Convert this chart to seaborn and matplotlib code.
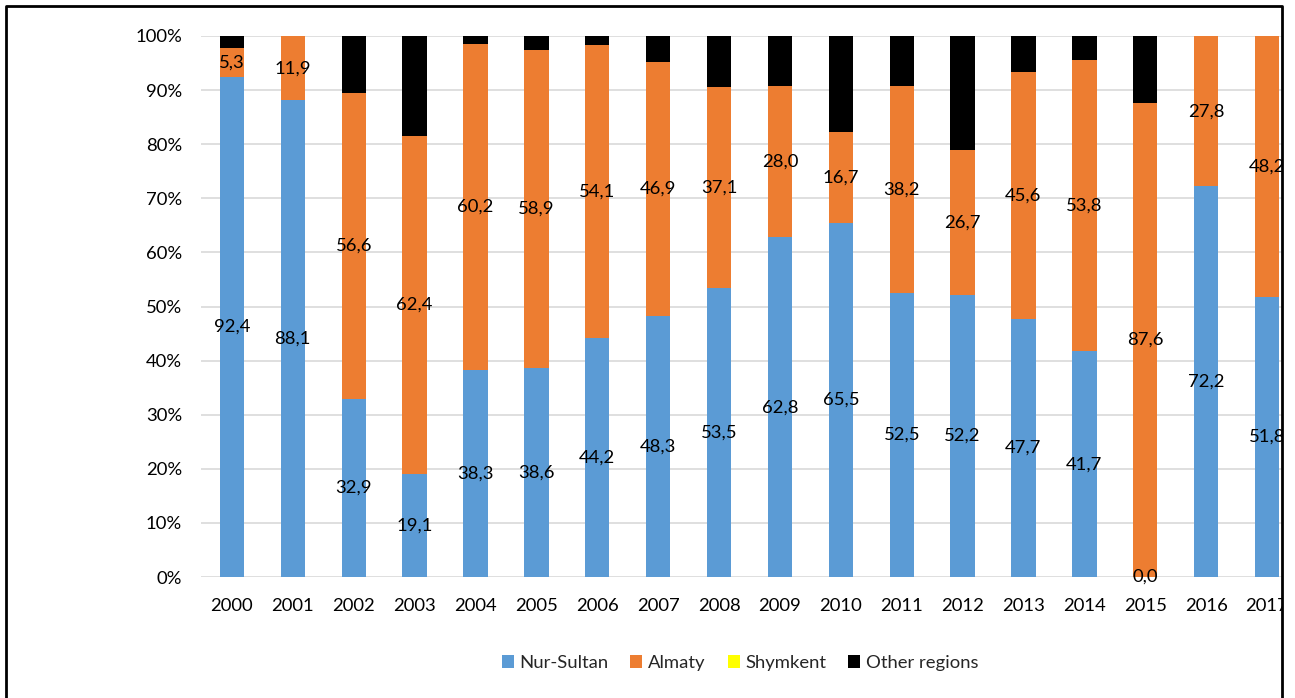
import pandas as pd
import numpy as np
import matplotlib
matplotlib.use("Agg")
import matplotlib.pyplot as plt
import seaborn as sns
from matplotlib.patches import Patch, Rectangle
from matplotlib.lines import Line2D
from matplotlib.ticker import PercentFormatter

# data
years = [str(y) for y in range(2000, 2018)]
nur_sultan = [92.4, 88.1, 32.9, 19.1, 38.3, 38.6, 44.2, 48.3, 53.5, 62.8, 65.5, 52.5, 52.2, 47.7, 41.7, 0.0, 72.2, 51.8]
almaty = [5.3, 11.9, 56.6, 62.4, 60.2, 58.9, 54.1, 46.9, 37.1, 28.0, 16.7, 38.2, 26.7, 45.6, 53.8, 87.6, 27.8, 48.2]
shymkent = [0.0] * 18
other = [2.3, 0.0, 10.5, 18.5, 1.5, 2.5, 1.7, 4.8, 9.4, 9.2, 17.8, 9.3, 21.1, 6.7, 4.5, 12.4, 0.0, 0.0]

series = ["Nur-Sultan", "Almaty", "Shymkent", "Other regions"]
colors = ["#5B9BD5", "#ED7D31", "#FFFF00", "#000000"]

df = pd.DataFrame({"Year": years, "Nur-Sultan": nur_sultan, "Almaty": almaty,
                   "Shymkent": shymkent, "Other regions": other})
shares = df[series].div(df[series].sum(axis=1), axis=0)
cum = shares.cumsum(axis=1)

sns.set_style("white")
plt.rcParams['font.family'] = ['Lato', 'DejaVu Sans']
FS = 13.3

fig = plt.figure(figsize=(12.95, 6.98), dpi=100)
ax = fig.add_axes([201.5 / 1295, 121 / 698, 1096 / 1295, 541 / 698])

# stacked bars: draw the cumulative totals from the top series down
for name, col in reversed(list(zip(series, colors))):
    sns.barplot(x=df["Year"], y=cum[name], color=col, saturation=1, width=0.4,
                linewidth=0, ax=ax, zorder=2)

# value labels for Nur-Sultan and Almaty
for i in range(len(years)):
    ns = shares["Nur-Sultan"].iloc[i]
    al = shares["Almaty"].iloc[i]
    ax.text(i, ns / 2, f"{nur_sultan[i]:.1f}".replace(".", ","), ha="center", va="center",
            fontsize=FS, color="black", zorder=3)
    ax.text(i, ns + al / 2, f"{almaty[i]:.1f}".replace(".", ","), ha="center", va="center",
            fontsize=FS, color="black", zorder=3)

ax.set_xlim(-0.5, len(years) - 0.5)
ax.set_ylim(0, 1)
ax.set_yticks(np.arange(0, 1.01, 0.1))
ax.yaxis.set_major_formatter(PercentFormatter(1.0, decimals=0))
ax.set_xlabel("")
ax.set_ylabel("")
ax.grid(axis="y", color="#D9D9D9", linewidth=1.2, zorder=0)
ax.set_axisbelow(True)
for s in ax.spines.values():
    s.set_visible(False)
ax.tick_params(axis="both", length=0, labelsize=FS, colors="black")
ax.tick_params(axis="y", pad=14)
ax.tick_params(axis="x", pad=15)

handles = [Patch(facecolor=c, edgecolor="none") for c in colors]
fig.legend(handles, series, loc="center", bbox_to_anchor=(740 / 1295, 1 - 663 / 698),
           ncol=4, frameon=False, fontsize=FS, handlelength=0.65, handleheight=0.65,
           handletextpad=0.3, columnspacing=1.2)

# chart border, clipped on the right
fig.add_artist(Rectangle((1283 / 1295, 0), 1, 1, transform=fig.transFigure,
                         facecolor="white", edgecolor="none", zorder=10))
fx = [6 / 1295, 6 / 1295, 1282 / 1295, 1282 / 1295]
fy = [0, 1 - 6 / 698, 1 - 6 / 698, 0]
fig.add_artist(Line2D(fx, fy, transform=fig.transFigure, color="black", linewidth=2, zorder=11))

fig.savefig("out.png", dpi=100)
